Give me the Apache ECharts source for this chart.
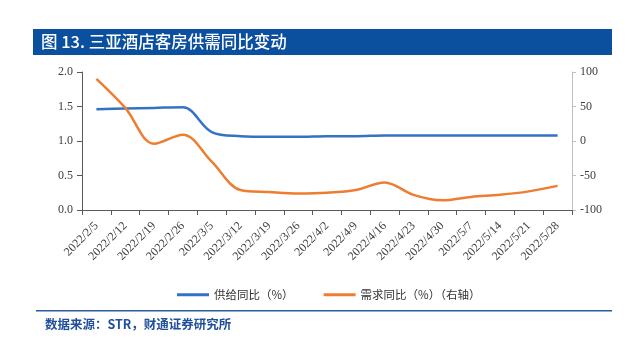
<!DOCTYPE html>
<html><head><meta charset="utf-8">
<script src="https://cdn.jsdelivr.net/npm/echarts@6/dist/echarts.min.js"></script>
<style>html,body{margin:0;padding:0;background:#fff}#c{width:637px;height:339px}</style>
</head><body><div id="c"></div>
<script>
const categories = ['2022/2/5','2022/2/12','2022/2/19','2022/2/26','2022/3/5','2022/3/12','2022/3/19','2022/3/26','2022/4/2','2022/4/9','2022/4/16','2022/4/23','2022/4/30','2022/5/7','2022/5/14','2022/5/21','2022/5/28'];
const supplyYoY = [1.46,1.47,1.48,1.49,1.13,1.07,1.06,1.06,1.07,1.07,1.08,1.08,1.08,1.08,1.08,1.08,1.08];
const demandYoY = [90,48,-4,9,-30,-71,-74,-76,-75,-71,-60,-78,-86,-81,-78,-73,-65];
const seriesNames = ['供给同比（%）','需求同比（%）（右轴）'];
const titleText = '图 13. 三亚酒店客房供需同比变动';
const sourceText = '数据来源：STR，财通证券研究所';

const chart = echarts.init(document.getElementById('c'));
const serif = 'Liberation Serif';
const axisLabelStyle = {fontFamily: serif, fontSize: 12, color: '#404040'};
chart.setOption({
  animation: false,
  grid: {left: 82, right: 65, top: 72, bottom: 129},
  legend: {
    left: 172, top: 284, itemWidth: 32, itemHeight: 3, itemGap: 30, icon: 'rect',
    textStyle: {fontFamily: 'Noto Sans CJK SC', fontSize: 11.5, color: '#333'},
    data: seriesNames
  },
  xAxis: {
    type: 'category', data: categories, boundaryGap: true,
    axisLine: {lineStyle: {color: '#595959', width: 1}},
    axisTick: {show: true, interval: 0, length: 5, lineStyle: {color: '#595959'}},
    axisLabel: {interval: 0, rotate: 45, margin: 14, fontSize: 12, fontFamily: serif, color: '#404040'}
  },
  yAxis: [{
    type: 'value', min: 0, max: 2, interval: 0.5, position: 'left',
    splitLine: {show: false},
    axisLine: {show: true, lineStyle: {color: '#595959'}},
    axisTick: {show: true, length: 5, lineStyle: {color: '#595959'}},
    axisLabel: Object.assign({formatter: v => v.toFixed(1), margin: 9}, axisLabelStyle)
  }, {
    type: 'value', min: -100, max: 100, interval: 50, position: 'right',
    splitLine: {show: false},
    axisLine: {show: true, lineStyle: {color: '#bfbfbf'}},
    axisTick: {show: true, length: 4, lineStyle: {color: '#bfbfbf'}},
    axisLabel: Object.assign({margin: 8}, axisLabelStyle)
  }],
  series: [{
    name: seriesNames[0], type: 'line', yAxisIndex: 0, data: supplyYoY,
    smooth: 0.35, showSymbol: false, symbol: 'none',
    lineStyle: {color: '#3472c6', width: 2.5}, itemStyle: {color: '#3472c6'}
  }, {
    name: seriesNames[1], type: 'line', yAxisIndex: 1, data: demandYoY,
    smooth: 0.35, showSymbol: false, symbol: 'none',
    lineStyle: {color: '#ed7d31', width: 2.5}, itemStyle: {color: '#ed7d31'}
  }],
  graphic: [
    {type: 'rect', left: 33, top: 29, shape: {width: 579, height: 26}, style: {fill: '#0b4f9f'}},
    {type: 'text', left: 41, top: 33, style: {text: titleText, fill: '#fff', font: '500 16.5px "Noto Sans CJK SC"'}},
    {type: 'rect', left: 36, top: 310, shape: {width: 576, height: 1.5}, style: {fill: '#2a5d9f'}},
    {type: 'text', left: 45, top: 318, style: {text: sourceText, fill: '#1f4e9a', font: 'bold 12.5px "Noto Sans CJK SC"'}}
  ]
});
</script></body></html>
